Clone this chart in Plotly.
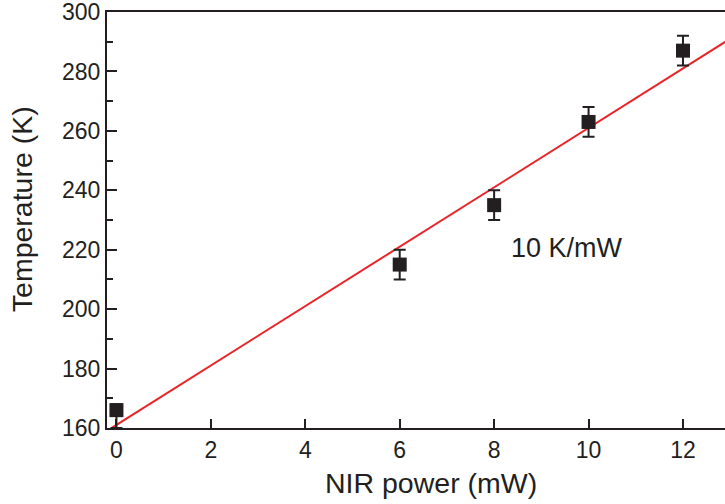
import plotly.graph_objects as go

# Data
power_mw = [0, 6, 8, 10, 12]
temperature_k = [166, 215, 235, 263, 287]
err_plus = [2, 5, 5, 5, 5]
err_minus = [6, 5, 5, 5, 5]

fit_slope = 10.0      # K/mW
fit_intercept = 161.0  # K
fit_x = [-0.1, 13.0]
fit_y = [fit_intercept + fit_slope * x for x in fit_x]

x_ticks = [0, 2, 4, 6, 8, 10, 12]
y_ticks = [160, 180, 200, 220, 240, 260, 280, 300]

DARK = "#231f20"
RED = "#e8262a"
FONT = "Liberation Sans, Arial, sans-serif"

fig = go.Figure()

fig.add_trace(go.Scatter(
    x=fit_x, y=fit_y, mode="lines",
    line=dict(color=RED, width=2),
    showlegend=False, hoverinfo="skip",
))

fig.add_trace(go.Scatter(
    x=power_mw, y=temperature_k, mode="markers",
    marker=dict(symbol="square", size=14, color=DARK),
    error_y=dict(type="data", array=err_plus, arrayminus=err_minus,
                 color=DARK, thickness=2, width=6),
    showlegend=False,
))

fig.add_annotation(
    x=9.54, y=220.6, xref="x", yref="y",
    text="10 K/mW", showarrow=False,
    font=dict(family=FONT, size=27, color=DARK),
)
fig.add_annotation(
    x=0.524, y=-0.132, xref="paper", yref="paper",
    xanchor="center", yanchor="middle",
    text="NIR power (mW)", showarrow=False,
    font=dict(family=FONT, size=28.5, color=DARK),
)
fig.add_annotation(
    x=-0.1375, y=0.526, xref="paper", yref="paper",
    xanchor="center", yanchor="middle", textangle=-90,
    text="Temperature (K)", showarrow=False,
    font=dict(family=FONT, size=28.5, color=DARK),
)

fig.update_layout(
    width=725, height=504,
    margin=dict(l=107, r=0, t=12, b=76),
    paper_bgcolor="white", plot_bgcolor="white",
    font=dict(family=FONT, color=DARK),
    xaxis=dict(
        range=[-0.2, 12.89], tickvals=x_ticks,
        ticks="inside", ticklen=9, tickwidth=2, tickcolor=DARK,
        showline=True, linewidth=2, linecolor=DARK, mirror=True,
        showgrid=False, zeroline=False, ticklabeloverflow="allow",
        tickfont=dict(family=FONT, size=23, color=DARK),
    ),
    xaxis2=dict(
        range=[-0.2, 12.89], tickvals=x_ticks, overlaying="x", side="top",
        ticks="inside", ticklen=3, tickwidth=2, tickcolor=DARK,
        showticklabels=False, showline=False, showgrid=False, zeroline=False,
    ),
    yaxis=dict(
        range=[159.99, 300.01], tickvals=y_ticks,
        ticks="inside", ticklen=10, tickwidth=2, tickcolor=DARK,
        minor=dict(dtick=10, tick0=170, ticks="inside", ticklen=6, tickwidth=2, tickcolor=DARK, showgrid=False),
        showline=True, linewidth=2, linecolor=DARK,
        showgrid=False, zeroline=False, ticklabeloverflow="allow",
        tickfont=dict(family=FONT, size=23, color=DARK),
    ),
)

fig.write_html("out.html", config={"displayModeBar": False},
               post_script="document.body.style.margin='0';document.body.style.overflow='hidden';")
